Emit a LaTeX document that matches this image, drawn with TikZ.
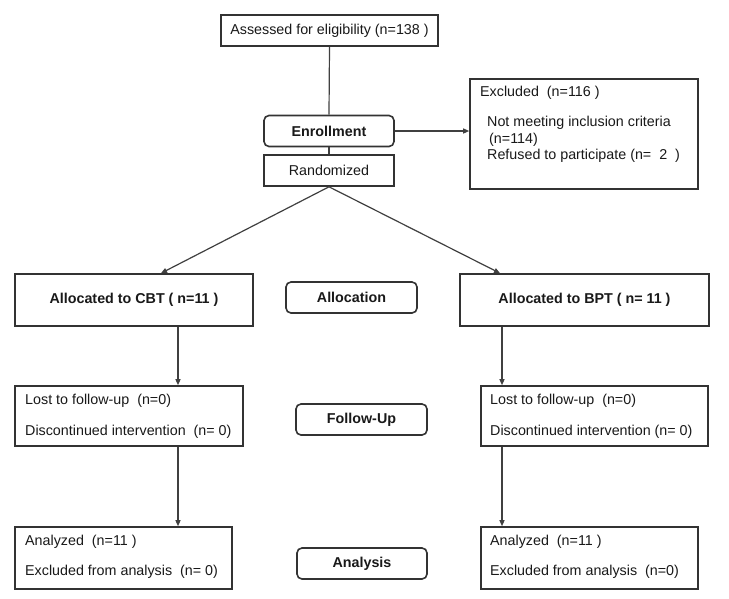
\documentclass[tikz,border=0pt]{standalone}
\usepackage{fontspec}
\setmainfont{Liberation Sans}
\usetikzlibrary{arrows.meta}
\begin{document}
\begin{tikzpicture}[x=1pt,y=-1pt,
  font=\fontsize{14.3}{16}\selectfont,
  every node/.style={text=black!90},
  sq/.style={draw=black!80,line width=1.6pt,inner sep=0pt,fill=white},
  rnd/.style={sq,rounded corners=5pt,font=\fontsize{14.3}{16}\selectfont\bfseries},
  txt/.style={anchor=west,inner sep=0pt},
  conn/.style={draw=black!75,line width=1.2pt},
  arr/.style={conn,-{Triangle[length=6pt,width=5pt]}}
]
\useasboundingbox (0,0) rectangle (729,598);
\fill[white] (0,0) rectangle (729,598);

% boxes
\node[sq,minimum width=217pt,minimum height=31pt] (assessed) at (329.5,30.5) {Assessed for eligibility (n=138 )};
\node[rnd,minimum width=130pt,minimum height=31pt] (enroll) at (329,131) {Enrollment};
\node[sq,minimum width=130pt,minimum height=31pt] (rand) at (329,170.5) {Randomized};
\node[sq,minimum width=228pt,minimum height=110pt] (excl) at (584,134) {};
\node[sq,minimum width=238pt,minimum height=52pt,font=\fontsize{14.3}{16}\selectfont\bfseries] (cbt) at (134,300) {Allocated to CBT ( n=11 )};
\node[rnd,minimum width=131pt,minimum height=31pt] (alloc) at (351.5,297.5) {Allocation};
\node[sq,minimum width=249pt,minimum height=52pt,font=\fontsize{14.3}{16}\selectfont\bfseries] (bpt) at (584.5,300) {Allocated to BPT ( n= 11 )};
\node[sq,minimum width=228pt,minimum height=60pt] (followL) at (129,416) {};
\node[rnd,minimum width=131pt,minimum height=31pt] (followup) at (361.5,419.5) {Follow-Up};
\node[sq,minimum width=227pt,minimum height=60pt] (followR) at (594.5,416) {};
\node[sq,minimum width=217pt,minimum height=62pt] (analL) at (123.5,558) {};
\node[rnd,minimum width=130pt,minimum height=31pt] (analysis) at (362,563.5) {Analysis};
\node[sq,minimum width=217pt,minimum height=62pt] (analR) at (589.5,558) {};

% texts inside boxes
\node[txt] (ex1) at (480,93) {Excluded \ (n=116 )};
\node[txt] (ex2) at (487,123) {Not meeting inclusion criteria};
\node[txt] (ex3) at (489,140) {(n=114)};
\node[txt] (ex4) at (487,156) {Refused to participate (n= \ 2 \ )};

\node[txt] (fl1) at (25,401) {Lost to follow-up \ (n=0)};
\node[txt] (fl2) at (25,432) {Discontinued intervention \ (n= 0)};
\node[txt] (fr1) at (490,401) {Lost to follow-up \ (n=0)};
\node[txt] (fr2) at (490,432) {Discontinued intervention (n= 0)};

\node[txt] (al1) at (25,542) {Analyzed \ (n=11 )};
\node[txt] (al2) at (25,572) {Excluded from analysis \ (n= 0)};
\node[txt] (ar1) at (490,542) {Analyzed \ (n=11 )};
\node[txt] (ar2) at (490,572) {Excluded from analysis \ (n=0)};

% connector columns
\coordinate (colL) at (178,0);
\coordinate (colR) at (502,0);
\coordinate (tipL) at (161,0);
\coordinate (tipR) at (500,0);

% connectors
\draw[conn] (assessed.south) -- (enroll.north);
\draw[arr] (enroll.east) -- (enroll.east -| excl.west);
\draw[conn] (enroll.south) -- (rand.north);
\draw[arr] (rand.south) -- (cbt.north -| tipL);
\draw[arr] (rand.south) -- (bpt.north -| tipR);
\draw[arr] (cbt.south -| colL) -- (followL.north -| colL);
\draw[arr] (followL.south -| colL) -- (analL.north -| colL);
\draw[arr] (bpt.south -| colR) -- (followR.north -| colR);
\draw[arr] (followR.south -| colR) -- (analR.north -| colR);
\end{tikzpicture}
\end{document}
